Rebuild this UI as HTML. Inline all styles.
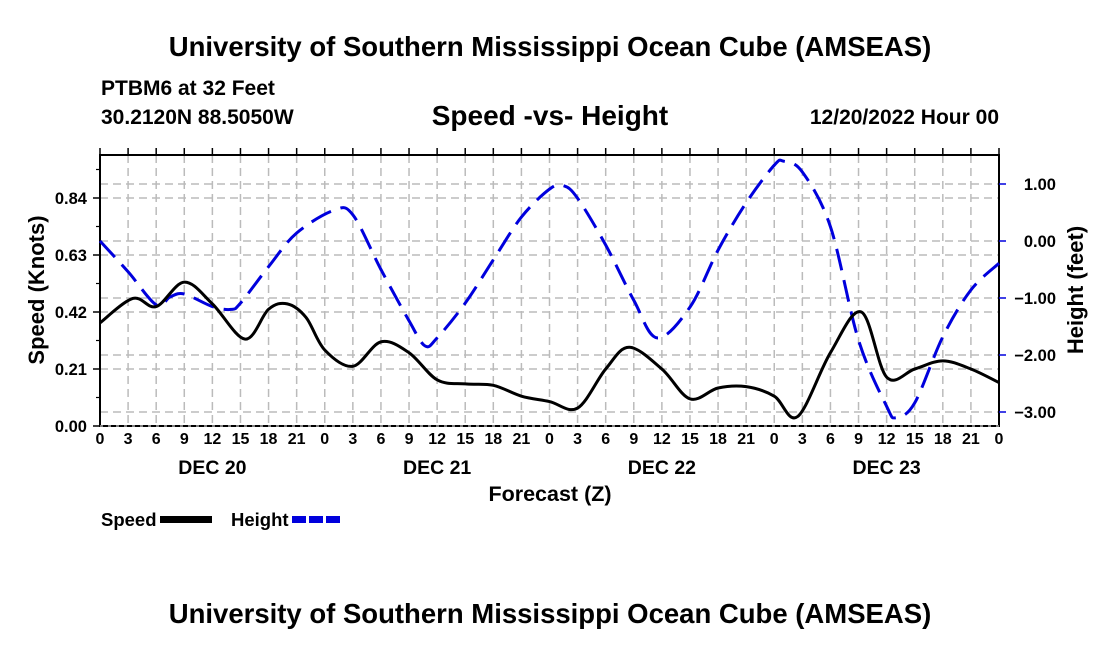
<!DOCTYPE html>
<html><head><meta charset="utf-8"><style>
body{margin:0;background:#fff}
svg{display:block}
text{font-family:"Liberation Sans",sans-serif;font-weight:bold;fill:#000}
</style></head><body>
<svg id="c" width="1100" height="650">
<text x="550" y="56" font-size="27.5" text-anchor="middle">University of Southern Mississippi Ocean Cube (AMSEAS)</text>
<text x="101" y="95" font-size="21">PTBM6 at 32 Feet</text>
<text x="101" y="124" font-size="21">30.2120N  88.5050W</text>
<text x="550" y="125" font-size="28" text-anchor="middle">Speed -vs- Height</text>
<text x="999" y="124" font-size="21" text-anchor="end">12/20/2022 Hour 00</text>
<text x="550" y="623" font-size="27.5" text-anchor="middle">University of Southern Mississippi Ocean Cube (AMSEAS)</text>
<g id="grid"></g>
<g id="axes"></g>
<g id="series"></g>
<text x="44" y="290" font-size="22" text-anchor="middle" transform="rotate(-90 44 290)">Speed (Knots)</text>
<text x="1083" y="290" font-size="22" text-anchor="middle" transform="rotate(-90 1083 290)">Height (feet)</text>
<text x="550" y="501" font-size="21.5" text-anchor="middle">Forecast (Z)</text>
<g>
<text x="101" y="526" font-size="18.5">Speed</text>
<rect x="160" y="516" width="52" height="7" fill="#000"/>
<text x="231" y="526" font-size="18.5">Height</text>
<line x1="292" y1="519.5" x2="343" y2="519.5" stroke="#0000dd" stroke-width="7" stroke-dasharray="14,3"/>
</g>
</svg>
<script>
const speedHours=[0,3.5,6,9,12,15.5,18,20,22,24,27,30,33,36,39,42,45,48,51,54,56.5,60,63,66,69,72,74.5,78,81.3,84,87,90,93,96];
const speedValues=[0.38,0.47,0.44,0.53,0.45,0.32,0.43,0.45,0.40,0.28,0.22,0.31,0.27,0.17,0.155,0.15,0.11,0.09,0.066,0.21,0.29,0.21,0.10,0.14,0.145,0.11,0.035,0.27,0.42,0.18,0.21,0.24,0.21,0.16];
const heightHours=[0,3,6,7.5,9,12,14,15,18,21,25,27,30,33,34.7,36,39,42,45,48,49.5,51,54,57,59.5,63,66,69,72,73,75,78,81,84,85,87,90,93,96];
const heightValues=[0.0,-0.54,-1.12,-0.98,-0.93,-1.15,-1.2,-1.09,-0.45,0.14,0.54,0.46,-0.5,-1.4,-1.84,-1.7,-1.09,-0.33,0.42,0.91,0.97,0.75,-0.07,-1.04,-1.7,-1.16,-0.16,0.67,1.33,1.40,1.21,0.25,-1.74,-2.9,-3.1,-2.84,-1.68,-0.86,-0.39];
const xTickLabels=["0","3","6","9","12","15","18","21","0","3","6","9","12","15","18","21","0","3","6","9","12","15","18","21","0","3","6","9","12","15","18","21","0"];
const dayLabels=["DEC 20","DEC 21","DEC 22","DEC 23"];
const speedTicks=[0,0.21,0.42,0.63,0.84];
const heightTicks=[1,0,-1,-2,-3];

const L=100,R=999,T=155,B=426;
const x=h=>L+h*(R-L)/96;
const yS=v=>B-v*(57/0.21);
const yH=v=>241-v*57;
const NS="http://www.w3.org/2000/svg";
function mk(tag,attrs,parent){const e=document.createElementNS(NS,tag);for(const k in attrs)e.setAttribute(k,attrs[k]);parent.appendChild(e);return e;}
const grid=document.getElementById('grid'),axes=document.getElementById('axes'),series=document.getElementById('series');
const gs={stroke:"#bbb","stroke-width":1.5,"stroke-dasharray":"8,5"};
for(let i=1;i<32;i++){const g=mk('line',Object.assign({x1:x(i*3),x2:x(i*3),y1:T,y2:B},gs),grid);

}
speedTicks.forEach(v=>{if(v===0)return;const g=mk('line',Object.assign({x1:L,x2:R,y1:yS(v),y2:yS(v)},gs),grid);

});
heightTicks.forEach(v=>{const g=mk('line',Object.assign({x1:L,x2:R,y1:yH(v),y2:yH(v)},gs),grid);

});
const f=mk('rect',{x:L,y:T,width:R-L,height:B-T,fill:"none",stroke:"#000","stroke-width":2},axes);


const bd=mk('line',{x1:L,x2:R,y1:B,y2:B,stroke:"#fff","stroke-width":1,"stroke-dasharray":"3,5"},axes);


xTickLabels.forEach((t,i)=>{
 const tk=mk('line',{x1:x(i*3),x2:x(i*3),y1:T-7,y2:T,stroke:"#000","stroke-width":1.5},axes);
 
 
 const tx=mk('text',{x:x(i*3),y:444,"font-size":16,"text-anchor":"middle"},axes);tx.textContent=t;
 
 
});
dayLabels.forEach((d,i)=>{const tx=mk('text',{x:x(i*24+12),y:474,"font-size":19.5,"text-anchor":"middle"},axes);tx.textContent=d;
 
 });
speedTicks.forEach(v=>{
 const tk=mk('line',{x1:L-7,x2:L,y1:yS(v),y2:yS(v),stroke:"#000","stroke-width":1.5},axes);
 
 
 const tx=mk('text',{x:L-13,y:yS(v)+6,"font-size":16.5,"text-anchor":"end"},axes);tx.textContent=v.toFixed(2);
 
 
});
for(let i=1;i<10;i+=2){const m=mk('line',{x1:L-4,x2:L,y1:yS(0.105*i),y2:yS(0.105*i),stroke:"#000","stroke-width":1.2},axes);
 
 }
heightTicks.forEach(v=>{
 const tk=mk('line',{x1:R,x2:R+7,y1:yH(v),y2:yH(v),stroke:"#0000dd","stroke-width":1.5},axes);
 
 
 const tx=mk('text',{x:1056,y:yH(v)+6,"font-size":16.5,"text-anchor":"end"},axes);tx.textContent=(v<0?"\u2212"+(-v).toFixed(2):v.toFixed(2));
 
 
});
function smooth(px){let d="M"+px[0][0]+","+px[0][1];
 for(let i=0;i<px.length-1;i++){const p0=px[Math.max(0,i-1)],p1=px[i],p2=px[i+1],p3=px[Math.min(px.length-1,i+2)];
 const c1=[p1[0]+(p2[0]-p0[0])/6,p1[1]+(p2[1]-p0[1])/6],c2=[p2[0]-(p3[0]-p1[0])/6,p2[1]-(p3[1]-p1[1])/6];
 d+=" C"+c1.join(",")+" "+c2.join(",")+" "+p2.join(",");}return d;}
const hp=mk('path',{d:smooth(heightHours.map((h,i)=>[x(h),yH(heightValues[i])])),fill:"none",stroke:"#0000dd","stroke-width":3,"stroke-dasharray":"22,10"},series);


const sp=mk('path',{d:smooth(speedHours.map((h,i)=>[x(h),yS(speedValues[i])])),fill:"none",stroke:"#000","stroke-width":3},series);


</script>
</body></html>
